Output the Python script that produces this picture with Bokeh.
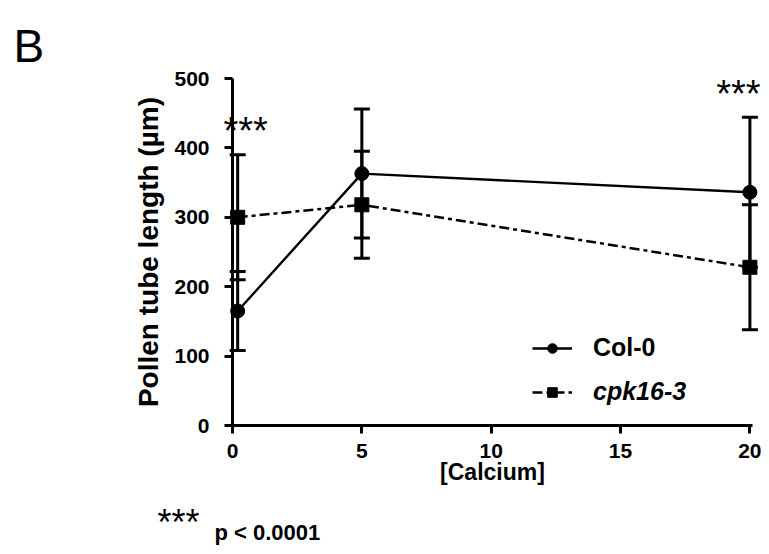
from bokeh.plotting import figure
from bokeh.models import (Range1d, ColumnDataSource, Whisker, TeeHead, Legend, LegendItem,
                          Label, FixedTicker)
from bokeh.embed import file_html
from bokeh.resources import INLINE

# ---- data ----
calcium = [0.2, 5, 20]
col0_mean = [165, 363, 336]
col0_err = [57, 93, 108]
cpk_mean = [300, 318, 228]
cpk_err = [90, 77, 90]
x_ticks = [0, 5, 10, 15, 20]
y_ticks = [0, 100, 200, 300, 400, 500]
series_names = ["Col-0", "cpk16-3"]
sig_mark = "***"
p_note = "p < 0.0001"
panel_letter = "B"

FONT = "Liberation Sans"

W, H = 761, 546
PX_X = 25.87      # pixels per calcium unit
PX_Y = 0.694      # pixels per µm
X0, Y0 = 232, 425  # where the axes cross

p = figure(frame_width=W, frame_height=H, output_backend="svg", toolbar_location=None,
           x_range=Range1d(-X0 / PX_X, (W - X0) / PX_X),
           y_range=Range1d(-(H - Y0) / PX_Y, Y0 / PX_Y),
           min_border_left=0, min_border_right=0, min_border_top=0, min_border_bottom=0)
p.outline_line_color = None
p.grid.grid_line_color = None
p.background_fill_color = "white"

p.xaxis.fixed_location = 0
p.yaxis.fixed_location = 0
p.xaxis.bounds = (0, 20.1)
p.yaxis.bounds = (0, 500)

for ax in (p.xaxis[0], p.yaxis[0]):
    ax.axis_line_width = 3
    ax.major_tick_line_width = 3
    ax.major_tick_out = 8
    ax.major_tick_in = 0
    ax.minor_tick_line_color = None
    ax.major_label_text_font = FONT
    ax.major_label_text_font_style = "bold"
    ax.major_label_text_color = "black"
    ax.axis_label_text_font = FONT
    ax.axis_label_text_font_style = "bold"
    ax.axis_label_text_color = "black"
    ax.axis_line_color = "black"
    ax.major_tick_line_color = "black"

p.xaxis.ticker = FixedTicker(ticks=x_ticks)
p.yaxis.ticker = FixedTicker(ticks=y_ticks)
p.xaxis.major_label_text_font_size = "21px"
p.yaxis.major_label_text_font_size = "21px"
p.xaxis.major_label_standoff = 10
p.yaxis.major_label_standoff = 15
p.xaxis.axis_label = "[Calcium]"
p.yaxis.axis_label = "Pollen tube length (µm)"
p.xaxis.axis_label_text_font_size = "23px"
p.yaxis.axis_label_text_font_size = "28px"
p.xaxis.axis_label_standoff = -2
p.yaxis.axis_label_standoff = 7

src_col = ColumnDataSource(dict(x=calcium, y=col0_mean,
                                lo=[m - e for m, e in zip(col0_mean, col0_err)],
                                hi=[m + e for m, e in zip(col0_mean, col0_err)]))
src_cpk = ColumnDataSource(dict(x=calcium, y=cpk_mean,
                                lo=[m - e for m, e in zip(cpk_mean, cpk_err)],
                                hi=[m + e for m, e in zip(cpk_mean, cpk_err)]))

for src in (src_cpk, src_col):
    w = Whisker(source=src, base="x", lower="lo", upper="hi", line_width=3, line_color="black",
                upper_head=TeeHead(size=16, line_width=3, line_color="black"),
                lower_head=TeeHead(size=16, line_width=3, line_color="black"))
    p.add_layout(w)

l_cpk = p.line("x", "y", source=src_cpk, line_color="black", line_width=2.5, line_dash="10 4 4 4")
m_cpk = p.scatter("x", "y", source=src_cpk, marker="square", size=14, color="black")
l_col = p.line("x", "y", source=src_col, line_color="black", line_width=2.4)
m_col = p.scatter("x", "y", source=src_col, marker="circle", size=14, color="black")

def make_legend(item, loc, style):
    lg = Legend(items=[item], location=loc, label_text_font=FONT, label_text_font_size="25px",
                label_text_font_style=style, label_text_color="black",
                glyph_width=40, glyph_height=24, label_standoff=21, padding=0, margin=0,
                border_line_color=None, background_fill_alpha=0)
    p.add_layout(lg, "center")

make_legend(LegendItem(label=series_names[0], renderers=[l_col, m_col]), (532, 184), "bold")
make_legend(LegendItem(label=series_names[1], renderers=[l_cpk, m_cpk]), (532, 140), "bold italic")

def lab(text, x, y, size, style="normal"):
    p.add_layout(Label(x=x, y=y, text=text, text_font=FONT, text_font_size=size,
                       text_font_style=style, text_color="black", text_baseline="alphabetic"))

lab(panel_letter, -8.47, 547, "46px")
lab(sig_mark, -0.35, 424, "38px")
lab(sig_mark, 18.7, 477, "38px")
lab(sig_mark, -2.9, -140, "36px")
lab(p_note, -0.7, -154, "22px", "bold")

open("out.html", "w").write(file_html(p, INLINE))
